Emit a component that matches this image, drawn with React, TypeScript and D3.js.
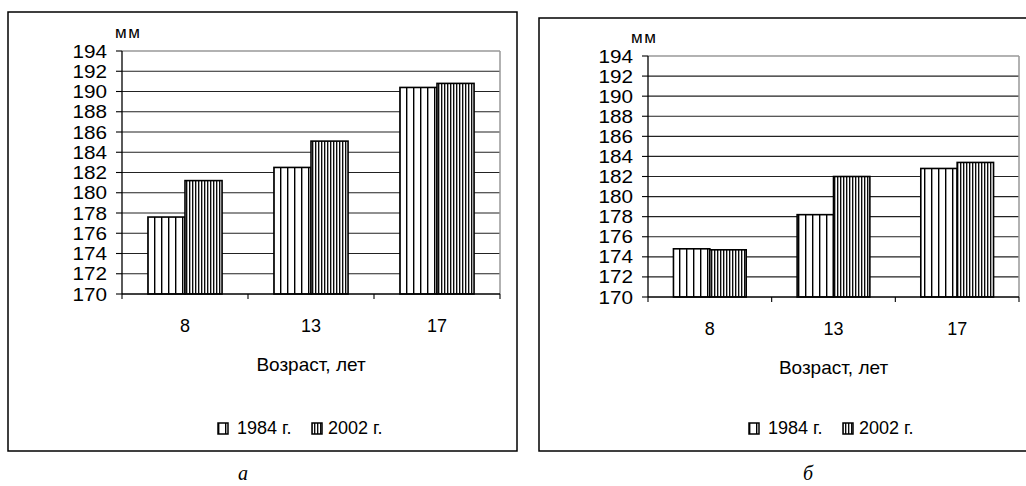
import React from "react";
import * as d3 from "d3";

const categories = ["8", "13", "17"];
const seriesNames = ["1984 г.", "2002 г."];
const valuesA1984 = [177.6, 182.5, 190.4];
const valuesA2002 = [181.2, 185.1, 190.8];
const valuesB1984 = [174.8, 178.2, 182.8];
const valuesB2002 = [174.7, 182.0, 183.4];
const yTicks = [170, 172, 174, 176, 178, 180, 182, 184, 186, 188, 190, 192, 194];
const unitLabel = "мм";
const xTitle = "Возраст, лет";
const captions = ["а", "б"];

const FONT = "Arial, 'Liberation Sans', sans-serif";

type Layout = {
  box: { x: number; y: number; w: number; h: number };
  plot: { x: number; y: number; w: number; h: number };
  unit: { dx: number; dy: number };
  captionX: number;
};

const layouts: Layout[] = [
  { box: { x: 8, y: 12, w: 509, h: 439 }, plot: { x: 122, y: 51, w: 378, h: 243 }, unit: { dx: -7, dy: -13 }, captionX: 243 },
  { box: { x: 539, y: 18, w: 500, h: 433 }, plot: { x: 648, y: 56, w: 371, h: 241 }, unit: { dx: -17, dy: -13 }, captionX: 808 },
];

const panelData = [
  [valuesA1984, valuesA2002],
  [valuesB1984, valuesB2002],
];

function Panel({ idx }: { idx: number }) {
  const L = layouts[idx];
  const series = panelData[idx];
  const { x: px, y: py, w: pw, h: ph } = L.plot;
  const y = d3.scaleLinear().domain([170, 194]).range([py + ph, py]);
  const x = d3.scaleBand<string>().domain(categories).range([px, px + pw]).paddingInner(0).paddingOuter(0);
  const bw = x.bandwidth();
  const barW = bw / 3.4;
  const inner = d3.scaleBand<number>().domain([0, 1]).range([0, 2 * barW]);
  const fills = [`url(#pA${idx})`, `url(#pB${idx})`];
  const bottom = py + ph;
  const boundaries = [...categories.map((c) => x(c)!), px + pw];
  return (
    <g>
      <defs>
        <pattern id={`pA${idx}`} patternUnits="userSpaceOnUse" width={7} height={10} x={0}>
          <rect width={7} height={10} fill="#fff" />
          <line x1={0.7} x2={0.7} y1={0} y2={10} stroke="#000" strokeWidth={1.4} />
        </pattern>
        <pattern id={`pB${idx}`} patternUnits="userSpaceOnUse" width={3} height={10}>
          <rect width={3} height={10} fill="#fff" />
          <line x1={0.7} x2={0.7} y1={0} y2={10} stroke="#000" strokeWidth={1.3} />
        </pattern>
      </defs>
      <rect x={L.box.x} y={L.box.y} width={L.box.w} height={L.box.h} fill="#fff" stroke="#000" strokeWidth={1.5} />
      {yTicks.slice(1, -1).map((t) => (
        <line key={t} x1={px} x2={px + pw} y1={y(t)} y2={y(t)} stroke="#222" strokeWidth={1.1} />
      ))}
      <line x1={px} x2={px + pw} y1={py} y2={py} stroke="#999" strokeWidth={1.5} />
      <line x1={px + pw} x2={px + pw} y1={py} y2={bottom} stroke="#999" strokeWidth={1.5} />
      {categories.map((c, i) =>
        series.map((vals, s) => {
          const bx = x(c)! + (bw - 2 * barW) / 2 + inner(s)!;
          return (
            <rect key={c + s} x={bx} y={y(vals[i])} width={barW} height={bottom - y(vals[i])} fill={fills[s]} stroke="#000" strokeWidth={1.6} />
          );
        })
      )}
      <line x1={px} x2={px} y1={py} y2={bottom} stroke="#000" strokeWidth={1.3} />
      <line x1={px} x2={px + pw} y1={bottom} y2={bottom} stroke="#000" strokeWidth={1.3} />
      {yTicks.map((t) => (
        <g key={t}>
          <line x1={px - 6} x2={px} y1={y(t)} y2={y(t)} stroke="#000" strokeWidth={1.1} />
          <g transform={`translate(${px - 15},${y(t) + 6.5}) scale(1.15,1)`}>
            <text textAnchor="end" fontFamily={FONT} fontSize={18} fill="#000">{t}</text>
          </g>
        </g>
      ))}
      {boundaries.map((b, i) => (
        <line key={i} x1={b} x2={b} y1={bottom} y2={bottom + 5} stroke="#000" strokeWidth={1.1} />
      ))}
      {categories.map((c) => (
        <text key={c} x={x(c)! + bw / 2} y={bottom + 38} textAnchor="middle" fontFamily={FONT} fontSize={18} fill="#000">{c}</text>
      ))}
      <text x={px + pw / 2} y={bottom + 77} textAnchor="middle" fontFamily={FONT} fontSize={19} fill="#000">{xTitle}</text>
      <text x={px + L.unit.dx} y={py + L.unit.dy} fontFamily={FONT} fontSize={17} letterSpacing={1.5} fill="#000">{unitLabel}</text>
      <g transform={`translate(${L.box.x + 210},${L.box.y + L.box.h - 17})`}>
        <rect x={0} y={-11} width={10} height={11} fill={fills[0]} stroke="#000" strokeWidth={1.5} />
        <text x={19} y={0} fontFamily={FONT} fontSize={18} fill="#000">{seriesNames[0]}</text>
        <rect x={94} y={-11} width={10} height={11} fill={fills[1]} stroke="#000" strokeWidth={1.5} />
        <text x={110} y={0} fontFamily={FONT} fontSize={18} fill="#000">{seriesNames[1]}</text>
      </g>
      <text x={L.captionX} y={480} textAnchor="middle" fontFamily="'Liberation Serif', 'Times New Roman', serif" fontStyle="italic" fontSize={20} fill="#000">{captions[idx]}</text>
    </g>
  );
}

export default function App() {
  return (
    <svg width={1026} height={486} style={{ position: "absolute", left: 0, top: 0, background: "#fff" }}>
      <rect width={1026} height={486} fill="#fff" />
      <Panel idx={0} />
      <Panel idx={1} />
    </svg>
  );
}
